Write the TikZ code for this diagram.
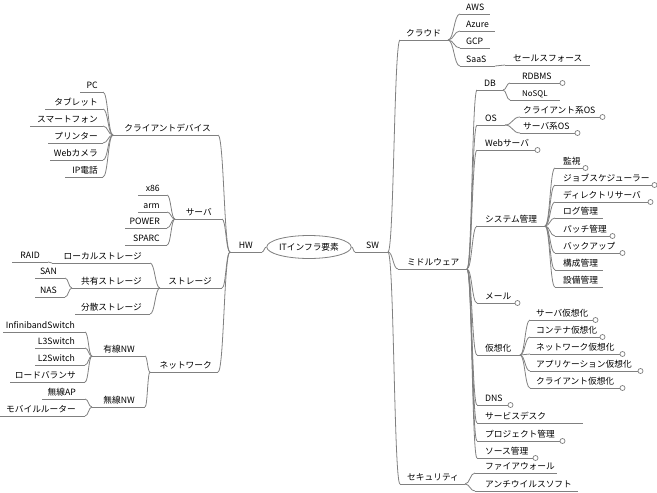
\documentclass[tikz,border=0pt]{standalone}
\usepackage{fontspec}
\setmainfont{Noto Sans CJK JP}
\usetikzlibrary{calc,shapes.geometric}
\definecolor{edge}{RGB}{128,128,128}
\tikzset{
  ul/.style={draw=edge, line width=0.8pt},
  lbl/.style={inner sep=0pt, font=\fontsize{8.7}{10}\selectfont},
  endmark/.style={draw=edge, fill=white, line width=0.7pt},
  rootnode/.style={draw=edge, line width=0.8pt, ellipse, minimum width=78pt, minimum height=23pt, inner sep=0pt, font=\fontsize{8.7}{10}\selectfont}
}
% right-side topic: name, x start, x end, y, text x, text
\newcommand{\TR}[6]{%
  \coordinate (#1s) at (#2,#4);
  \coordinate (#1e) at (#3,#4);
  \draw[ul] (#1s) -- (#1e);
  \node[lbl, anchor=base west] (#1) at (#5,#4-3.5) {#6};
}
% left-side topic
\newcommand{\TL}[6]{%
  \coordinate (#1s) at (#2,#4);
  \coordinate (#1e) at (#3,#4);
  \draw[ul] (#1s) -- (#1e);
  \node[lbl, anchor=base east] (#1) at (#5,#4-3.5) {#6};
}
\newcommand{\conn}[2]{\draw[ul] let \p1=(#1), \p2=(#2) in (\p1) .. controls ({(\x1+\x2)/2},\y1) and ({(\x1+\x2)/2},\y2) .. (\p2);}
\newcommand{\tipcirc}[1]{\draw[endmark] ($(#1e)+(2.5,0)$) circle[radius=2.5pt];}
\begin{document}
\begin{tikzpicture}[x=1pt,y=-1pt]
\useasboundingbox (0,0) rectangle (657,493);
\node[rootnode] (root) at (309,247) {ITインフラ要素};
% ---------- HW side
\TL{hw}{262}{230}{252}{253}{HW}
\conn{root.west}{hws}
\TL{cd}{218}{113}{135}{211}{クライアントデバイス}
\TL{sv}{222}{175}{219}{212}{サーバ}
\TL{st}{222}{160}{288}{212}{ストレージ}
\TL{nw}{218}{150}{372}{212}{ネットワーク}
\foreach \c in {cd,sv,st,nw} {\conn{hwe}{\c s}}
% client devices
\TL{pc}{103}{80}{92}{98}{PC}
\TL{tab}{103}{45}{109}{98}{タブレット}
\TL{sp}{103}{30}{126}{98}{スマートフォン}
\TL{pr}{103}{48}{143}{98}{プリンター}
\TL{cam}{103}{50}{160}{98}{Webカメラ}
\TL{ip}{103}{65}{177}{98}{IP電話}
\foreach \c in {pc,tab,sp,pr,cam,ip} {\conn{cde}{\c s}}
% servers
\TL{xe}{167}{138}{195}{160}{x86}
\TL{arm}{167}{138}{212}{160}{arm}
\TL{pow}{167}{125}{228}{160}{POWER}
\TL{spa}{167}{125}{245}{160}{SPARC}
\foreach \c in {xe,arm,pow,spa} {\conn{sve}{\c s}}
% storage
\TL{ls}{150}{52}{263}{142}{ローカルストレージ}
\TL{ss}{158}{72}{288}{142}{共有ストレージ}
\TL{ds}{150}{75}{314}{142}{分散ストレージ}
\foreach \c in {ls,ss,ds} {\conn{ste}{\c s}}
\TL{raid}{48}{12}{262}{40}{RAID}
\conn{lse}{raids}
\TL{san}{65}{35}{278}{57}{SAN}
\TL{nas}{65}{35}{297}{57}{NAS}
\conn{sse}{sans}
\conn{sse}{nass}
% network
\TL{wd}{145}{92}{356}{135}{有線NW}
\TL{wl}{145}{92}{407}{135}{無線NW}
\conn{nwe}{wds}
\conn{nwe}{wls}
\TL{ib}{85}{3}{332}{75}{InfinibandSwitch}
\TL{lt}{85}{35}{348}{75}{L3Switch}
\TL{ltw}{85}{35}{365}{75}{L2Switch}
\TL{lb}{85}{10}{382}{76}{ロードバランサ}
\foreach \c in {ib,lt,ltw,lb} {\conn{wde}{\c s}}
\TL{ap}{85}{42}{399}{76}{無線AP}
\TL{mr}{85}{0}{416}{76}{モバイルルーター}
\conn{wle}{aps}
\conn{wle}{mrs}
% ---------- SW side
\TR{sw}{355}{388}{252}{366}{SW}
\conn{root.east}{sws}
\TR{cl}{400}{448}{40}{406}{クラウド}
\TR{mw}{398}{467}{269}{407}{ミドルウェア}
\TR{sec}{400}{465}{484}{407}{セキュリティ}
\foreach \c in {cl,mw,sec} {\conn{swe}{\c s}}
% cloud
\TR{aws}{460}{490}{14}{466}{AWS}
\TR{az}{460}{495}{31}{466}{Azure}
\TR{gcp}{460}{490}{48}{466}{GCP}
\TR{saas}{460}{495}{66}{466}{SaaS}
\foreach \c in {aws,az,gcp,saas} {\conn{cle}{\c s}}
\TR{sf}{505}{590}{65}{513}{セールスフォース}
\conn{saase}{sfs}
% middleware
\TR{db}{477}{503}{90}{484}{DB}
\TR{os}{477}{505}{125}{485}{OS}
\TR{web}{477}{535}{150}{485}{Webサーバ}
\TR{sys}{477}{545}{226}{485}{システム管理}
\TR{mail}{477}{515}{303}{485}{メール}
\TR{vt}{477}{520}{355}{485}{仮想化}
\TR{dns}{477}{508}{405}{485}{DNS}
\TR{sd}{477}{583}{423}{485}{サービスデスク}
\TR{pm}{477}{560}{441}{485}{プロジェクト管理}
\TR{sm}{477}{533}{458}{485}{ソース管理}
\foreach \c in {db,os,web,sys,mail,vt,dns,sd,pm,sm} {\conn{mwe}{\c s}}
\foreach \c in {web,mail,dns,pm,sm} {\tipcirc{\c}}
% DB
\TR{rdb}{510}{560}{83}{522}{RDBMS}
\coordinate (nosqls) at (510,100);
\coordinate (nosqle) at (560,100);
\draw[ul] (nosqls) -- (nosqle);
\node[lbl, anchor=base west, font=\fontsize{7.9}{9}\selectfont] (nosql) at (522,96.5) {NoSQL};
\conn{dbe}{rdbs}
\conn{dbe}{nosqls}
\tipcirc{rdb}
% OS
\TR{cos}{520}{600}{117}{523}{クライアント系OS}
\TR{sos}{520}{575}{133}{523}{サーバ系OS}
\conn{ose}{coss}
\conn{ose}{soss}
\tipcirc{cos}
\tipcirc{sos}
% system management
\TR{kan}{555}{583}{168}{563}{監視}
\TR{job}{555}{652}{185}{563}{ジョブスケジューラー}
\TR{dir}{555}{648}{202}{563}{ディレクトリサーバ}
\TR{log}{555}{603}{218}{563}{ログ管理}
\TR{pat}{555}{610}{236}{563}{パッチ管理}
\TR{bak}{555}{620}{253}{563}{バックアップ}
\TR{kou}{555}{603}{270}{563}{構成管理}
\TR{set}{555}{603}{287}{563}{設備管理}
\foreach \c in {kan,job,dir,log,pat,bak,kou,set} {\conn{syse}{\c s}}
\foreach \c in {kan,job,dir,pat,bak} {\tipcirc{\c}}
% virtualization
\TR{vs}{530}{593}{320}{536}{サーバ仮想化}
\TR{vc}{530}{600}{337}{536}{コンテナ仮想化}
\TR{vn}{530}{620}{354}{536}{ネットワーク仮想化}
\TR{va}{530}{638}{371}{536}{アプリケーション仮想化}
\TR{vcl}{530}{620}{388}{536}{クライアント仮想化}
\foreach \c in {vs,vc,vn,va,vcl} {\conn{vte}{\c s} \tipcirc{\c}}
% security
\TR{fw}{475}{557}{473}{485}{ファイアウォール}
\TR{av}{475}{578}{491}{485}{アンチウイルスソフト}
\conn{sece}{fws}
\conn{sece}{avs}
\end{tikzpicture}
\end{document}
